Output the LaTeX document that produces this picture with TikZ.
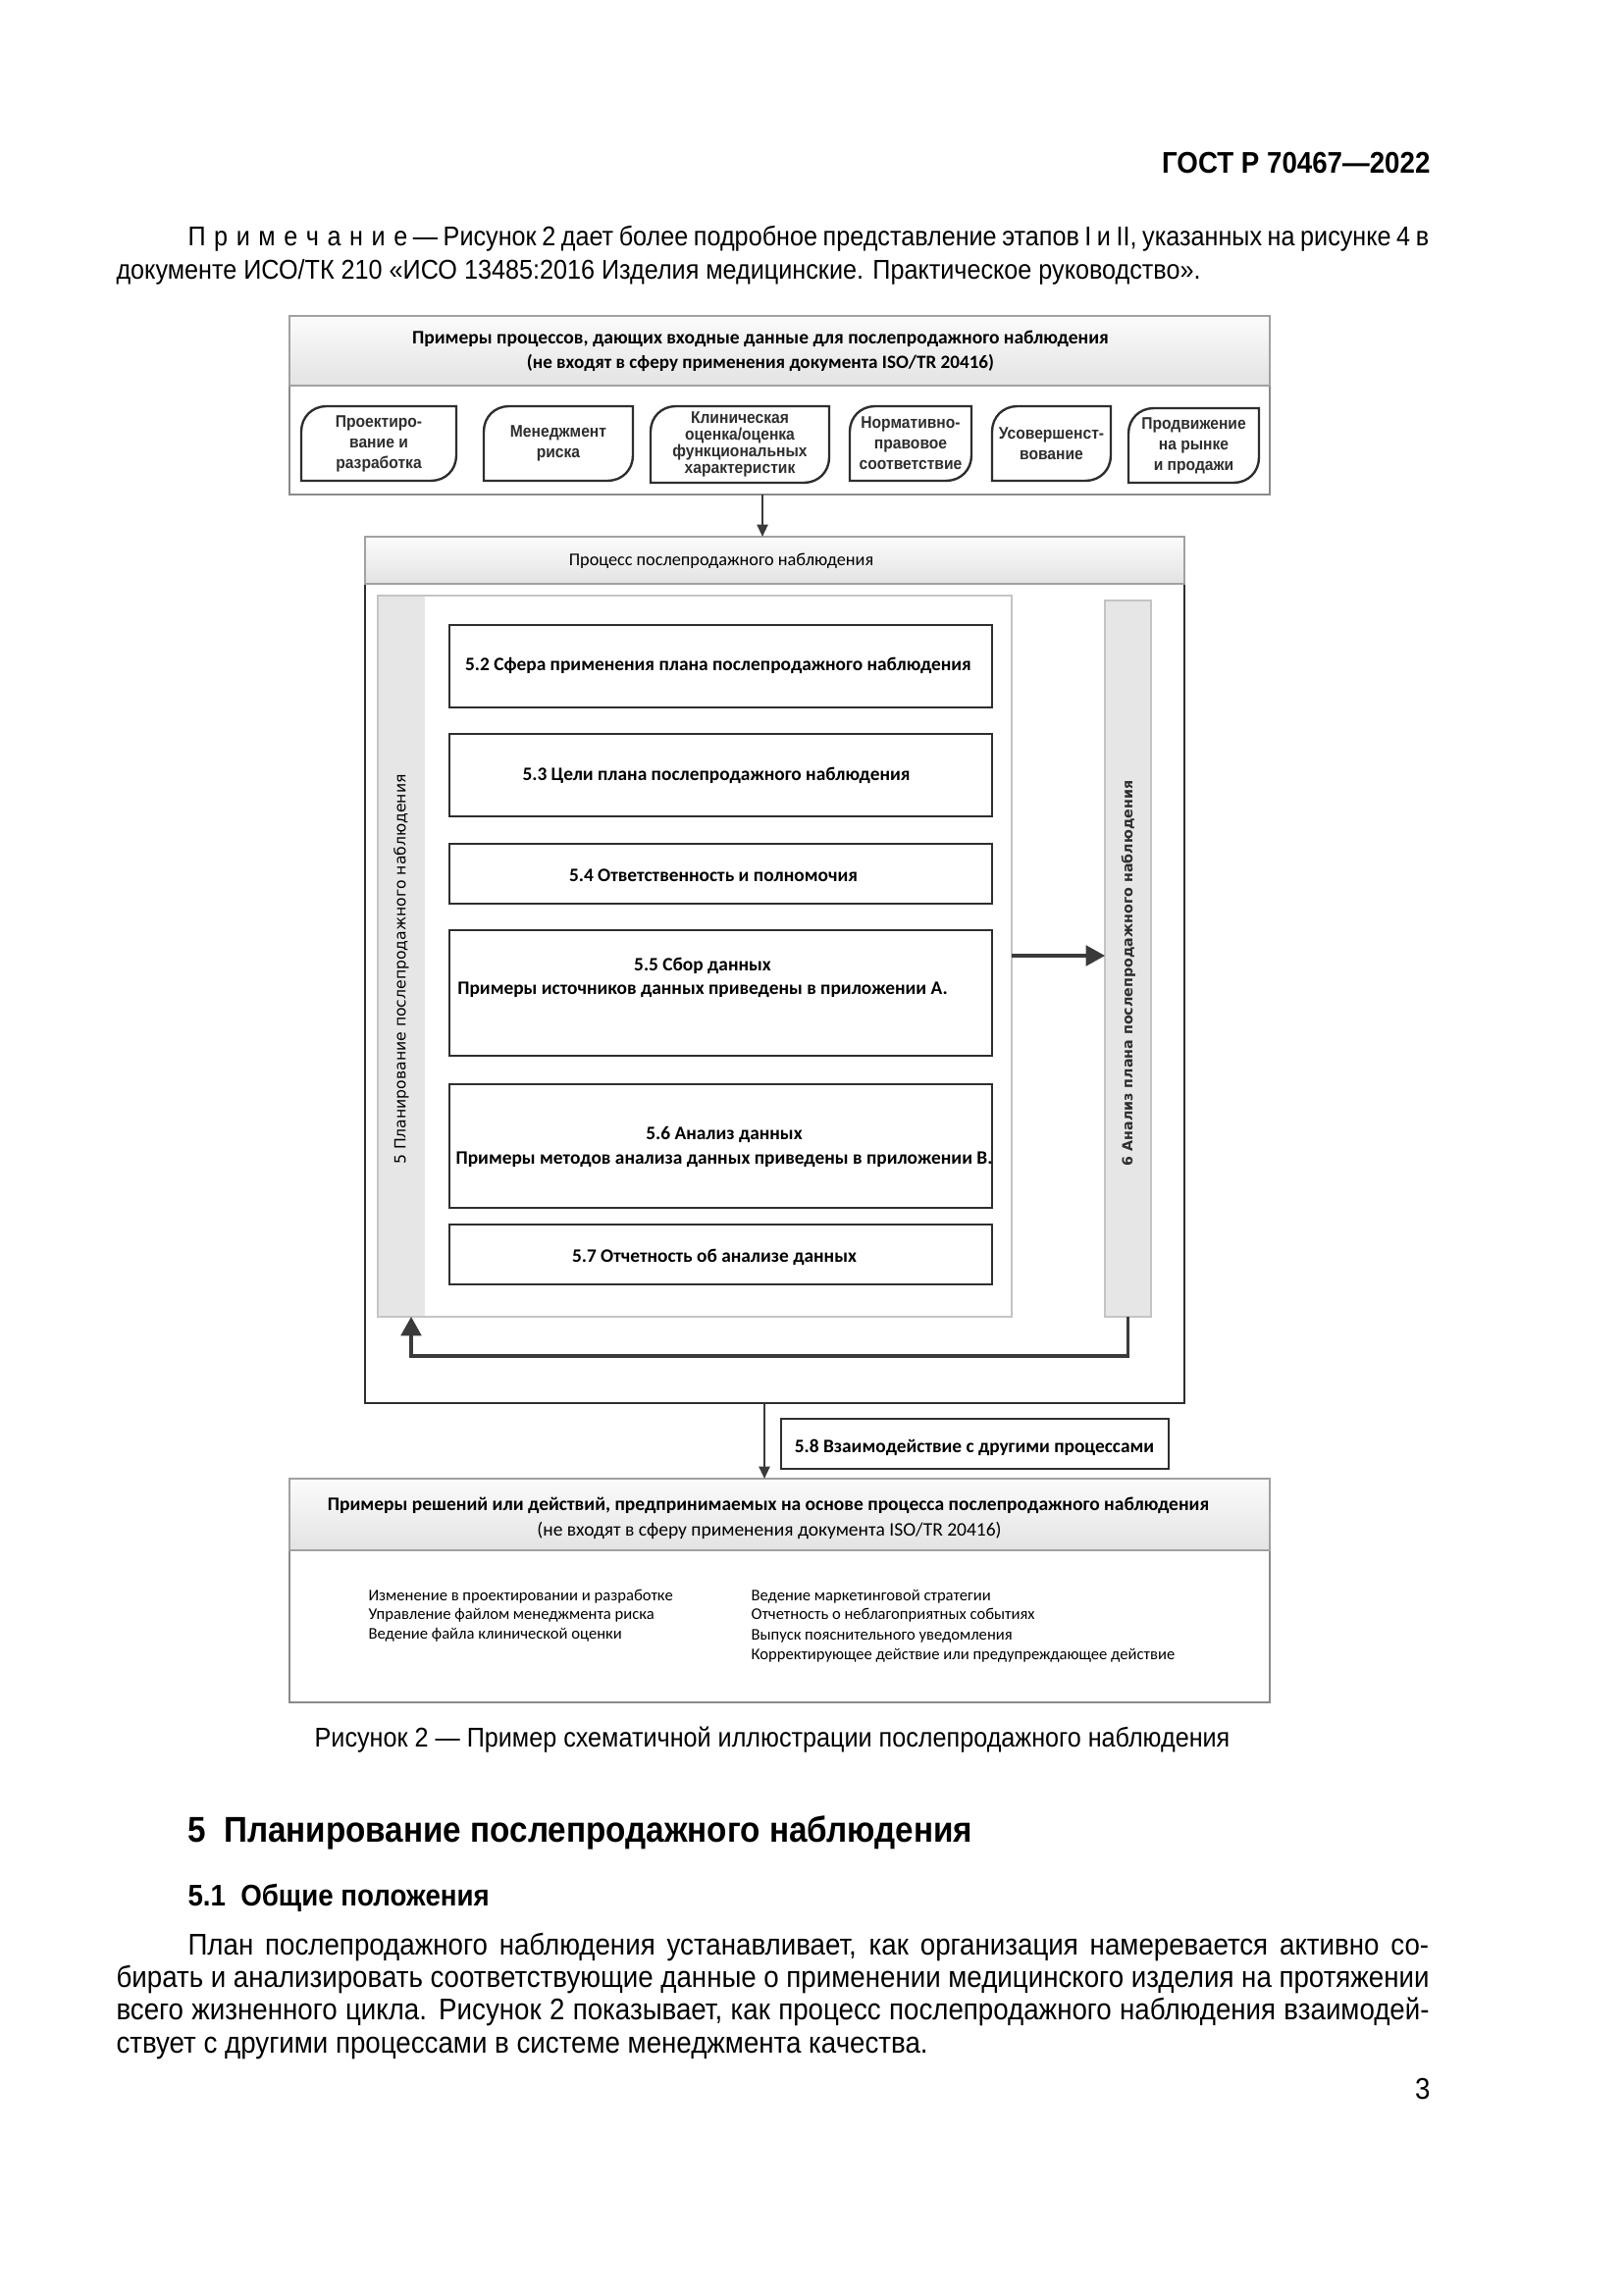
\documentclass[tikz,border=0pt]{standalone}
\usepackage{fontspec}
\setmainfont{Liberation Sans}[FakeStretch=0.91]
\newfontfamily\calfont{Carlito}
\newfontfamily\dvfont{DejaVu Sans}
\usetikzlibrary{arrows.meta,fit,calc}

\definecolor{ink}{HTML}{2E2E2E}
\definecolor{arrowc}{HTML}{3A3A3A}
\definecolor{frame}{HTML}{8A8A8A}
\definecolor{stripfill}{HTML}{E6E6E6}
\definecolor{stripline}{HTML}{C4C4C4}

\tikzset{
  area/.style={inner sep=0pt, outer sep=0pt},
  frameline/.style={draw=frame, line width=0.5pt},
  band/.style={top color=gray!3, bottom color=gray!22, draw=frame!80, line width=0.4pt},
  secbox/.style={draw=ink, line width=1pt, fill=white},
  rbline/.style={draw=ink, line width=0.85pt},
  conn/.style={draw=arrowc, line width=1.1pt},
  thinconn/.style={draw=arrowc, line width=0.8pt},
  bigtip/.style={-{Triangle[length=7pt,width=7.5pt]}},
  smalltip/.style={-{Triangle[length=4.5pt,width=4pt]}},
  ptext/.style={inner sep=0pt, anchor=base west, font=\fontsize{11}{13}\selectfont},
  ntext/.style={inner sep=0pt, anchor=base west, font=\fontsize{10}{12}\selectfont},
  rbtext/.style={inner sep=0pt, align=center, text=ink, font=\fontsize{6.2}{7.6}\selectfont\bfseries},
  hdtext/.style={inner sep=0pt, anchor=base, font=\calfont\fontsize{7.05}{9}\selectfont\bfseries},
  hdtextr/.style={inner sep=0pt, anchor=base, font=\calfont\fontsize{7.05}{9}\selectfont},
  sectext/.style={inner sep=0pt, anchor=base, font=\calfont\fontsize{7.0}{9}\selectfont\bfseries},
  listtext/.style={inner sep=0pt, anchor=base west, font=\calfont\fontsize{6.0}{8}\selectfont},
}

\newcommand\rbox[7]{%
  \node[area, fit={(#2,#3) (#4,#5)}] (#1) {};
  \draw[rbline] (#2,#5) -- (#2,#3+26) .. controls (#2,#3+11) and (#2+11,#3) .. (#2+26,#3)
    -- (#4,#3) -- (#4,#5-26) .. controls (#4,#5-11) and (#4-11,#5) .. (#4-26,#5) -- cycle;
  \node[rbtext, #7] (#1t) at (#1.center) {#6};
}
\newcommand\spacedword{П\kern3.1ptр\kern3.1ptи\kern3.1ptм\kern3.1ptе\kern3.1ptч\kern3.1ptа\kern3.1ptн\kern3.1ptи\kern3.1ptе}

\begin{document}
\begin{tikzpicture}[x=0.36135pt,y=-0.36135pt]
\useasboundingbox[fill=white] (0,0) rectangle (1654,2339);

% ---------- page text above ----------
\node[inner sep=0pt, anchor=base east, font=\fontsize{11}{13}\selectfont\bfseries] (gost) at (1458,177) {ГОСТ Р 70467—2022};
\node[ntext] (note1) at (191,251) {\makebox[457pt][s]{\spacedword{} — Рисунок 2 дает более подробное представление этапов I и II, указанных на рисунке 4 в}};
\node[ntext] (note2) at (118,285) {документе ИСО/ТК 210 «ИСО 13485:2016 Изделия медицинские. Практическое руководство».};

% ---------- top box ----------
\node[area, fit={(295,322) (1294,504)}, frameline, fill=white] (topbox) {};
\node[area, fit={(295,322) (1294,393)}, band] (tophead) {};
\node[hdtext] (toph1) at (775,351) {Примеры процессов, дающих входные данные для послепродажного наблюдения};
\node[hdtext, font=\calfont\fontsize{6.9}{9}\selectfont\bfseries] (toph2) at (775,376) {(не входят в сферу применения документа ISO/TR 20416)};

\rbox{r1}{307}{414}{465}{490}{Проектиро-\\вание и\\разработка}{}
\rbox{r2}{493}{414}{645}{490}{Менеджмент\\риска}{}
\rbox{r3}{663}{414}{845}{492}{Клиническая\\оценка/оценка\\функциональных\\характеристик}{font=\fontsize{6.2}{6.2}\selectfont\bfseries}
\rbox{r4}{866}{414}{990}{490}{Нормативно-\\правовое\\соответствие}{}
\rbox{r5}{1011}{414}{1132}{490}{Усовершенст-\\вование}{}
\rbox{r6}{1150}{416}{1283}{492}{Продвижение\\на рынке\\и продажи}{}

% ---------- process box ----------
\node[area, fit={(372,547) (1207,1430)}, draw=ink, line width=0.9pt, fill=white] (procbox) {};
\node[area, fit={(372,547) (1207,595)}, band] (prochead) {};
\node[hdtextr, font=\calfont\fontsize{6.6}{8}\selectfont] (proct) at (735,577) {Процесс послепродажного наблюдения};

\node[area, fit={(385,607) (1031,1342)}, draw=stripline, line width=0.6pt, fill=white] (panel) {};
\node[area, fit={(386,608) (433,1341)}, fill=stripfill] (lstrip) {};
\node[area, fit={(1126,612) (1173,1342)}, fill=stripfill, draw=stripline, line width=0.6pt] (rstrip) {};

\node[inner sep=0pt, rotate=90, text=black, font=\dvfont\fontsize{5.65}{7}\selectfont] (ltext) at (409,988) {5 Планирование послепродажного наблюдения};
\node[inner sep=0pt, rotate=90, text=ink, font=\dvfont\fontsize{5.15}{7}\selectfont\bfseries] (rtext) at (1150,992) {6 Анализ плана послепродажного наблюдения};

\node[area, fit={(458,637) (1011,721)}, secbox] (b52) {};
\node[area, fit={(458,748) (1011,832)}, secbox] (b53) {};
\node[area, fit={(458,860) (1011,921)}, secbox] (b54) {};
\node[area, fit={(458,948) (1011,1076)}, secbox] (b55) {};
\node[area, fit={(458,1105) (1011,1231)}, secbox] (b56) {};
\node[area, fit={(458,1248) (1011,1309)}, secbox] (b57) {};

\node[sectext] (t52) at (732,684) {5.2 Сфера применения плана послепродажного наблюдения};
\node[sectext] (t53) at (730,796) {5.3 Цели плана послепродажного наблюдения};
\node[sectext] (t54) at (727,898) {5.4 Ответственность и полномочия};
\node[sectext] (t55a) at (716,989) {5.5 Сбор данных};
\node[sectext] (t55b) at (716,1013) {Примеры источников данных приведены в приложении А.};
\node[sectext] (t56a) at (738,1161) {5.6 Анализ данных};
\node[sectext] (t56b) at (738,1186) {Примеры методов анализа данных приведены в приложении В.};
\node[sectext] (t57) at (728,1286) {5.7 Отчетность об анализе данных};

% connectors inside process
\coordinate (ya) at (0,974);
\draw[conn, bigtip] (panel.east |- ya) -- (rstrip.west |- ya);
\coordinate (yloop) at (0,1382);
\coordinate (xl) at (419,0);
\draw[conn, bigtip] (rstrip.south) -- (rstrip.south |- yloop) -- (xl |- yloop) -- (panel.south -| xl);

% top arrow
\coordinate (xa) at (777,0);
\draw[thinconn, smalltip] (topbox.south -| xa) -- (prochead.north -| xa);

% ---------- 5.8 and bottom ----------
\node[area, fit={(796,1446) (1191,1497)}, secbox] (b58) {};
\node[sectext] (t58) at (993,1480) {5.8 Взаимодействие с другими процессами};

\node[area, fit={(295,1507) (1294,1735)}, frameline, fill=white] (botbox) {};
\node[area, fit={(295,1507) (1294,1580)}, band] (bothead) {};
\node[hdtext] (both1) at (783,1539) {Примеры решений или действий, предпринимаемых на основе процесса послепродажного наблюдения};
\node[hdtextr] (both2) at (784,1565) {(не входят в сферу применения документа ISO/TR 20416)};

\coordinate (xb) at (779,0);
\draw[thinconn, smalltip] (procbox.south -| xb) -- (botbox.north -| xb);

\node[listtext] (l1) at (375,1631) {Изменение в проектировании и разработке};
\node[listtext] (l2) at (375,1650) {Управление файлом менеджмента риска};
\node[listtext] (l3) at (375,1670) {Ведение файла клинической оценки};
\node[listtext] (m1) at (765,1631) {Ведение маркетинговой стратегии};
\node[listtext] (m2) at (765,1650) {Отчетность о неблагоприятных событиях};
\node[listtext] (m3) at (765,1671) {Выпуск пояснительного уведомления};
\node[listtext] (m4) at (765,1691) {Корректирующее действие или предупреждающее действие};

% ---------- page text below ----------
\node[inner sep=0pt, anchor=base, font=\fontsize{10}{12}\selectfont] (caption) at (787,1780) {Рисунок 2 — Пример схематичной иллюстрации послепродажного наблюдения};
\node[inner sep=0pt, anchor=base west, font=\fontsize{13.2}{15}\selectfont\bfseries] (h5) at (191,1877) {5\hspace{0.5em}Планирование послепродажного наблюдения};
\node[inner sep=0pt, anchor=base west, font=\fontsize{11}{13}\selectfont\bfseries] (h51) at (191,1942) {5.1\hspace{0.5em}Общие положения};
\node[ptext] (p1) at (191,1992) {\makebox[457pt][s]{План послепродажного наблюдения устанавливает, как организация намеревается активно со-}};
\node[ptext] (p2) at (118,2025) {\makebox[483.5pt][s]{бирать и анализировать соответствующие данные о применении медицинского изделия на протяжении}};
\node[ptext] (p3) at (118,2058) {\makebox[483.5pt][s]{всего жизненного цикла. Рисунок 2 показывает, как процесс послепродажного наблюдения взаимодей-}};
\node[ptext] (p4) at (118,2092) {ствует с другими процессами в системе менеджмента качества.};
\node[inner sep=0pt, anchor=base east, font=\fontsize{11}{13}\selectfont] (pnum) at (1458,2139) {3};
\end{tikzpicture}
\end{document}
